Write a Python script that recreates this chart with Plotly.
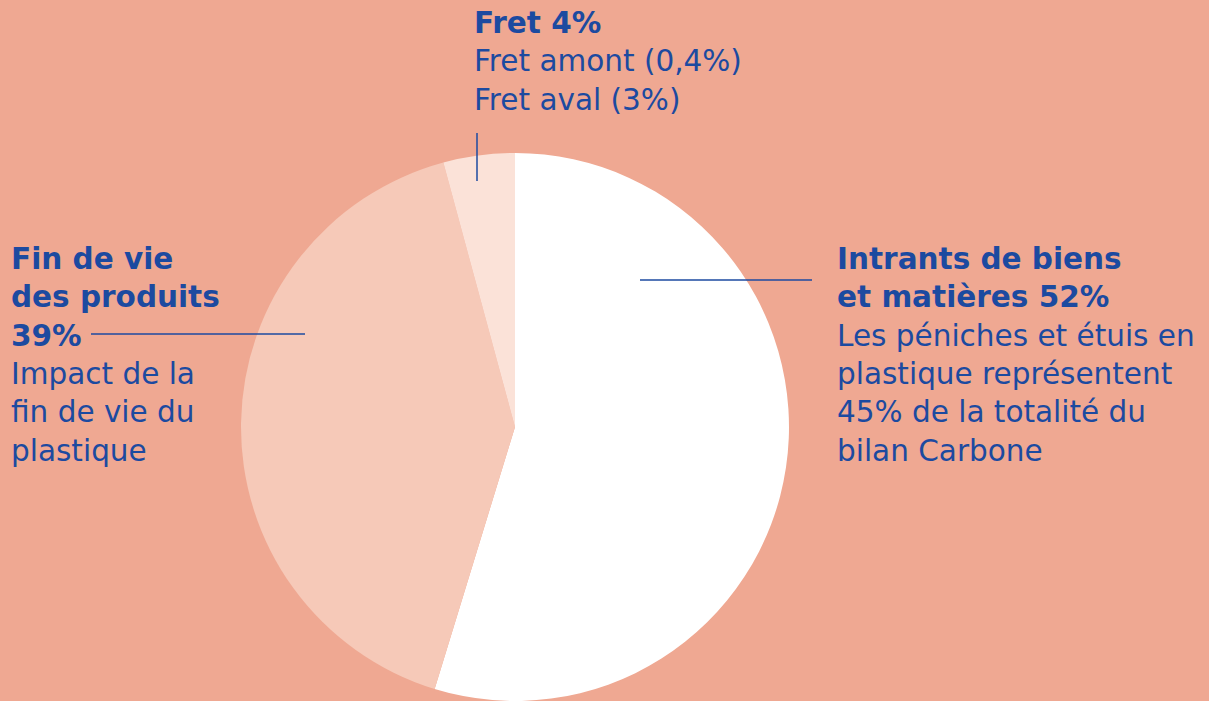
import plotly.graph_objects as go

W, H = 1209, 701

categories = ["Intrants de biens et matières", "Fin de vie des produits", "Fret"]
values = [52, 39, 4]
slice_colors = ["#FFFFFF", "#F6C9B8", "#FBE2D8"]

BG = "#EFA892"
BLUE = "#1C4AA0"
FONT = "DejaVu Sans"

label_fret = "<b>Fret 4%</b><br>Fret amont (0,4%)<br>Fret aval (3%)"
label_fin = ("<b>Fin de vie<br>des produits<br>39%</b><br>Impact de la<br>"
             "fin de vie du<br>plastique")
label_intr = ("<b>Intrants de biens<br>et matières 52%</b><br>Les péniches et étuis en<br>"
              "plastique représentent<br>45% de la totalité du<br>bilan Carbone")


def px(x):
    return x / W


def py(y):
    return 1 - y / H


# pie placement (pixels): center (515, 427), radius 274
cx, cy, r = 515, 427, 274

fig = go.Figure(go.Pie(
    labels=categories,
    values=values,
    sort=False,
    direction="clockwise",
    rotation=0,
    marker=dict(colors=slice_colors, line=dict(width=0)),
    textinfo="none",
    hoverinfo="label+percent",
    showlegend=False,
    domain=dict(x=[px(cx - r), px(cx + r)], y=[py(cy + r), py(cy - r)]),
))

line_style = dict(color=BLUE, width=1.5)
fig.add_shape(type="line", xref="paper", yref="paper",
              x0=px(477), x1=px(477), y0=py(133), y1=py(181), line=line_style)
fig.add_shape(type="line", xref="paper", yref="paper",
              x0=px(91), x1=px(305), y0=py(334), y1=py(334), line=line_style)
fig.add_shape(type="line", xref="paper", yref="paper",
              x0=px(640), x1=px(812), y0=py(280), y1=py(280), line=line_style)

ann_font = dict(family=FONT, size=29.5, color=BLUE)
for text, x, y in [(label_fret, 472, 4), (label_fin, 9, 240), (label_intr, 835, 240)]:
    fig.add_annotation(text=text, xref="paper", yref="paper", x=px(x), y=py(y),
                       xanchor="left", yanchor="top", align="left", showarrow=False,
                       font=ann_font)

fig.update_layout(
    width=W, height=H,
    margin=dict(l=0, r=0, t=0, b=0),
    paper_bgcolor=BG, plot_bgcolor=BG,
)

fig.write_html("out.html")
